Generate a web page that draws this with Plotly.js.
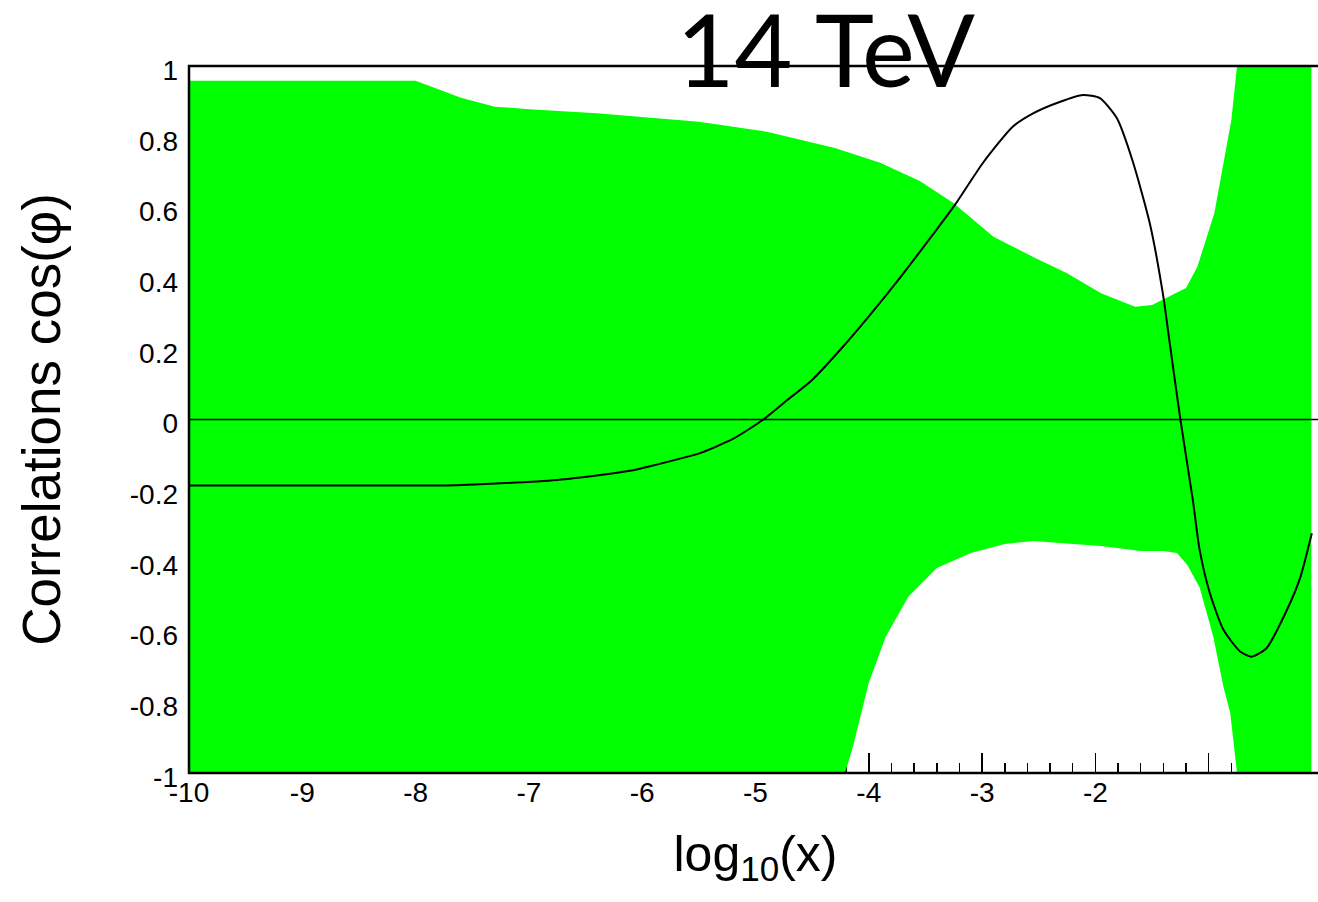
<!DOCTYPE html>
<html>
<head>
<meta charset="utf-8">
<script src="https://cdn.plot.ly/plotly-3.0.1.min.js"></script>
<style>
  html, body { margin: 0; padding: 0; overflow: hidden; background: #fff; }
</style>
</head>
<body>
<div id="chart" style="width:1322px;height:902px"></div>
<script>
// Upper edge of the uncertainty band, cos(phi) vs log10(x)
const upperX = [-10, -8, -7.6, -7.3, -7.0, -6.4, -5.5, -4.9, -4.3, -3.9, -3.55, -3.25, -2.9, -2.55, -2.25, -1.95, -1.65, -1.5, -1.2, -1.1, -0.95, -0.8, -0.75, -0.094];
const upperY = [0.958, 0.958, 0.91, 0.885, 0.878, 0.866, 0.842, 0.814, 0.768, 0.726, 0.675, 0.612, 0.517, 0.46, 0.414, 0.357, 0.319, 0.324, 0.372, 0.432, 0.584, 0.847, 1.0, 1.0];

// Lower edge of the uncertainty band
const lowerX = [-10, -4.21, -4.14, -4.0, -3.85, -3.65, -3.4, -3.1, -2.8, -2.55, -2.2, -1.95, -1.6, -1.4, -1.28, -1.19, -1.08, -0.96, -0.87, -0.81, -0.75, -0.094];
const lowerY = [-1, -1, -0.926, -0.745, -0.614, -0.501, -0.42, -0.378, -0.352, -0.344, -0.352, -0.358, -0.372, -0.372, -0.378, -0.411, -0.475, -0.614, -0.756, -0.83, -1, -1];

// Central correlation curve
const curveX = [-10, -7.81, -7.43, -6.75, -6.37, -6.11, -5.93, -5.49, -5.2, -4.93, -4.72, -4.5, -4.25, -4.0, -3.72, -3.43, -3.24, -2.99, -2.73, -2.55, -2.31, -2.11, -1.96, -1.81, -1.67, -1.52, -1.4, -1.35, -1.25, -1.14, -1.08, -0.99, -0.87, -0.72, -0.62, -0.49, -0.31, -0.19, -0.09];
const curveY = [-0.187, -0.187, -0.183, -0.171, -0.157, -0.145, -0.132, -0.095, -0.055, 0, 0.055, 0.112, 0.198, 0.292, 0.403, 0.525, 0.607, 0.727, 0.828, 0.866, 0.899, 0.918, 0.909, 0.852, 0.73, 0.555, 0.347, 0.23, 0, -0.228, -0.369, -0.491, -0.595, -0.657, -0.671, -0.647, -0.539, -0.445, -0.322];

// Axis ticks
const xTickVals = [-10, -9, -8, -7, -6, -5, -4, -3, -2, -1];
const xTickText = ["-10", "-9", "-8", "-7", "-6", "-5", "-4", "-3", "-2", ""];
const yTickVals = [-1, -0.8, -0.6, -0.4, -0.2, 0, 0.2, 0.4, 0.6, 0.8, 1];
const yTickText = ["-1", "-0.8", "-0.6", "-0.4", "-0.2", "0", "0.2", "0.4", "0.6", "0.8", "1"];

// Closed outline of the band: upper edge left to right, lower edge back
const bandX = upperX.concat(lowerX.slice().reverse());
const bandY = upperY.concat(lowerY.slice().reverse());

const labelFont = { family: "Liberation Sans, Arial, sans-serif", color: "#000" };

const traces = [
  {
    type: "scatter", mode: "lines",
    x: bandX, y: bandY,
    fill: "toself", fillcolor: "#00ff00",
    line: { width: 0, color: "#00ff00" },
    hoverinfo: "skip"
  },
  {
    type: "scatter", mode: "lines",
    x: curveX, y: curveY,
    line: { color: "#000", width: 2, shape: "spline", smoothing: 0.6 },
    hoverinfo: "skip"
  }
];

const layout = {
  width: 1322, height: 902,
  margin: { l: 189, r: 0, t: 66, b: 129, pad: 0 },
  paper_bgcolor: "#fff", plot_bgcolor: "#fff",
  showlegend: false,
  title: {
    text: "14 TeV",
    font: { family: "Lato, sans-serif", size: 100, color: "#000" },
    x: 0.562, xref: "paper", xanchor: "center",
    y: 0.942, yref: "container", yanchor: "middle"
  },
  xaxis: {
    range: [-10, 0], fixedrange: true,
    tickmode: "array", tickvals: xTickVals, ticktext: xTickText,
    ticks: "inside", ticklen: 20, tickwidth: 1.5, tickcolor: "#000",
    minor: { ticks: "inside", ticklen: 10, tickwidth: 1.5, tickcolor: "#000", dtick: 0.2, tick0: 0, showgrid: false },
    showgrid: false, zeroline: false, showline: false,
    layer: "below traces",
    tickfont: Object.assign({ size: 28 }, labelFont),
    automargin: false,
    title: { text: "log<sub>10</sub>(x)", font: Object.assign({ size: 50 }, labelFont), standoff: 28 }
  },
  yaxis: {
    range: [-1, 1], fixedrange: true,
    tickmode: "array", tickvals: yTickVals, ticktext: yTickText,
    ticks: "", showgrid: false, zeroline: false, showline: false,
    layer: "below traces",
    ticklabelstandoff: 10, ticklabelshift: 4,
    tickfont: Object.assign({ size: 28 }, labelFont),
    automargin: false,
    title: { text: "Correlations cos(φ)", font: Object.assign({ size: 53 }, labelFont), standoff: 52 }
  },
  shapes: [
    { type: "line", xref: "paper", yref: "y", x0: 0, x1: 1, y0: 0, y1: 0,
      line: { color: "#000", width: 1.5 }, layer: "above" },
    { type: "rect", xref: "paper", yref: "paper", x0: 0, x1: 1, y0: 0, y1: 1,
      line: { color: "#000", width: 2.5 }, fillcolor: "rgba(0,0,0,0)", layer: "above" }
  ]
};

Plotly.newPlot("chart", traces, layout, { staticPlot: true, displayModeBar: false });
</script>
</body>
</html>
